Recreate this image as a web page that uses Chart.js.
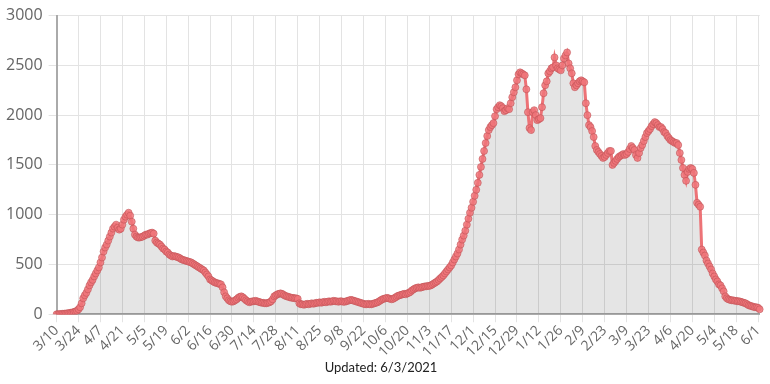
<!DOCTYPE html>
<html>
<head>
<meta charset="utf-8">
<title>Daily cases</title>
<script src="https://cdn.jsdelivr.net/npm/chart.js@4/dist/chart.umd.min.js"></script>
<style>
    body { margin: 0; background: #fff; }
    #wrap { width: 770px; height: 384px; position: relative; }
</style>
</head>
<body>
<div id="wrap"><canvas id="casesChart"></canvas></div>
<script>
// First day of the series, one value per day after it
var startDate = new Date(2020, 2, 10);

// Daily values in two-week blocks (3/10/2020 .. 6/2/2021)
var block00 = [0, 1, 2, 3, 5, 6, 8, 10, 12, 15, 18, 22, 28, 35];
var block01 = [50, 70, 110, 160, 190, 215, 250, 290, 320, 345, 380, 410, 440, 470];
var block02 = [520, 570, 630, 670, 700, 740, 780, 820, 860, 880, 900, 870, 850, 860];
var block03 = [900, 950, 980, 1000, 1020, 990, 930, 860, 800, 780, 770, 770, 775, 780];
var block04 = [790, 800, 800, 810, 815, 820, 810, 740, 720, 710, 700, 680, 660, 650];
var block05 = [630, 620, 600, 590, 580, 585, 580, 575, 570, 560, 550, 545, 540, 535];
var block06 = [530, 525, 520, 510, 500, 490, 480, 470, 460, 450, 440, 420, 400, 380];
var block07 = [350, 340, 330, 320, 315, 310, 305, 300, 270, 220, 180, 160, 140, 130];
var block08 = [125, 130, 140, 150, 165, 175, 180, 170, 155, 140, 130, 120, 125, 130];
var block09 = [130, 135, 130, 125, 120, 115, 115, 110, 110, 115, 120, 130, 150, 180];
var block10 = [190, 200, 205, 210, 205, 195, 185, 180, 175, 170, 165, 165, 160, 160];
var block11 = [155, 110, 100, 100, 95, 100, 105, 100, 105, 110, 105, 110, 115, 115];
var block12 = [120, 115, 120, 125, 120, 125, 130, 125, 130, 135, 130, 130, 125, 130];
var block13 = [130, 125, 125, 130, 135, 140, 145, 140, 135, 130, 125, 120, 115, 110];
var block14 = [105, 100, 100, 105, 100, 100, 105, 110, 115, 120, 130, 140, 150, 155];
var block15 = [160, 165, 160, 155, 150, 155, 165, 175, 185, 190, 195, 200, 205, 200];
var block16 = [210, 215, 225, 240, 250, 260, 265, 270, 265, 270, 275, 280, 280, 285];
var block17 = [285, 290, 300, 310, 320, 330, 345, 360, 375, 390, 410, 430, 450, 470];
var block18 = [490, 520, 550, 580, 610, 650, 700, 750, 790, 840, 900, 960, 1020, 1070];
var block19 = [1130, 1190, 1250, 1320, 1400, 1480, 1560, 1640, 1720, 1790, 1850, 1880, 1900, 1920];
var block20 = [1990, 2060, 2080, 2100, 2090, 2070, 2040, 2050, 2070, 2060, 2120, 2180, 2230, 2280];
var block21 = [2350, 2410, 2430, 2420, 2410, 2400, 2260, 2030, 1870, 1850, 2030, 2050, 2000, 1950];
var block22 = [1960, 1970, 2080, 2220, 2300, 2340, 2420, 2440, 2470, 2480, 2580, 2500, 2470, 2460];
var block23 = [2450, 2500, 2570, 2600, 2630, 2520, 2470, 2420, 2320, 2280, 2300, 2320, 2340, 2350];
var block24 = [2340, 2330, 2120, 2000, 1900, 1880, 1840, 1780, 1690, 1650, 1630, 1610, 1590, 1570];
var block25 = [1580, 1600, 1620, 1640, 1640, 1500, 1520, 1540, 1560, 1580, 1590, 1600, 1610, 1600];
var block26 = [1610, 1630, 1660, 1690, 1670, 1650, 1600, 1570, 1620, 1670, 1700, 1740, 1780, 1820];
var block27 = [1840, 1860, 1890, 1910, 1930, 1920, 1900, 1880, 1880, 1860, 1830, 1820, 1790, 1770];
var block28 = [1750, 1740, 1730, 1720, 1720, 1700, 1620, 1550, 1470, 1400, 1340, 1430, 1460, 1470];
var block29 = [1460, 1420, 1300, 1120, 1100, 1080, 650, 620, 590, 540, 510, 480, 450, 410];
var block30 = [380, 350, 330, 300, 290, 260, 230, 180, 160, 150, 145, 140, 140, 135];
var block31 = [135, 130, 130, 125, 120, 115, 110, 100, 90, 85, 80, 75, 70, 70];
var block32 = [65, 50];

var dailyCases = [].concat(
    block00, block01, block02, block03, block04, block05, block06, block07,
    block08, block09, block10, block11, block12, block13, block14, block15,
    block16, block17, block18, block19, block20, block21, block22, block23,
    block24, block25, block26, block27, block28, block29, block30, block31,
    block32
);

// Y axis tick values
var yTicks = [0, 500, 1000, 1500, 2000, 2500, 3000];

// Build the date labels (M/D) for every day
var dateLabels = [];
for (var i = 0; i < dailyCases.length; i++) {
    var d = new Date(startDate.getFullYear(), startDate.getMonth(), startDate.getDate() + i);
    dateLabels.push((d.getMonth() + 1) + '/' + d.getDate());
}

var ctx = document.getElementById('casesChart').getContext('2d');
var casesChart = new Chart(ctx, {
    type: 'line',
    data: {
        labels: dateLabels,
        datasets: [{
            label: 'Cases',
            data: dailyCases,
            borderColor: 'rgba(236, 108, 112, 0.95)',
            borderWidth: 3,
            backgroundColor: 'rgba(0, 0, 0, 0.1)',
            fill: true,
            tension: 0,
            pointRadius: 3.5,
            pointBorderWidth: 1,
            pointBackgroundColor: 'rgba(240, 118, 122, 0.85)',
            pointBorderColor: 'rgba(190, 80, 84, 0.55)'
        }]
    },
    options: {
        animation: false,
        responsive: true,
        maintainAspectRatio: false,
        layout: { padding: { top: 6, right: 8, left: 0, bottom: 0 } },
        plugins: {
            legend: { display: false },
            tooltip: { enabled: false },
            title: {
                display: true,
                text: 'Updated: 6/3/2021',
                position: 'bottom',
                color: '#222',
                font: { family: 'Lato', size: 13, weight: 'normal' },
                padding: { top: 0, bottom: 8 }
            }
        },
        scales: {
            x: {
                grid: { color: '#e3e3e3', lineWidth: 1 },
                border: { color: '#aaa', width: 2 },
                ticks: {
                    autoSkip: false,
                    maxRotation: 45,
                    minRotation: 45,
                    color: '#666',
                    font: { family: 'Open Sans', size: 14 },
                    padding: 0,
                    callback: function (value, index) {
                        // only every second week gets a label and a grid line
                        return index % 14 === 0 ? this.getLabelForValue(value) : null;
                    }
                }
            },
            y: {
                min: yTicks[0],
                max: yTicks[yTicks.length - 1],
                grid: { color: '#e3e3e3', lineWidth: 1 },
                border: { color: '#aaa', width: 2 },
                afterBuildTicks: function (scale) {
                    scale.ticks = yTicks.map(function (v) { return { value: v }; });
                },
                ticks: {
                    color: '#666',
                    font: { family: 'Open Sans', size: 16 },
                    padding: 6,
                    callback: function (value) {
                        return String(value);
                    }
                }
            }
        }
    }
});
</script>
</body>
</html>
